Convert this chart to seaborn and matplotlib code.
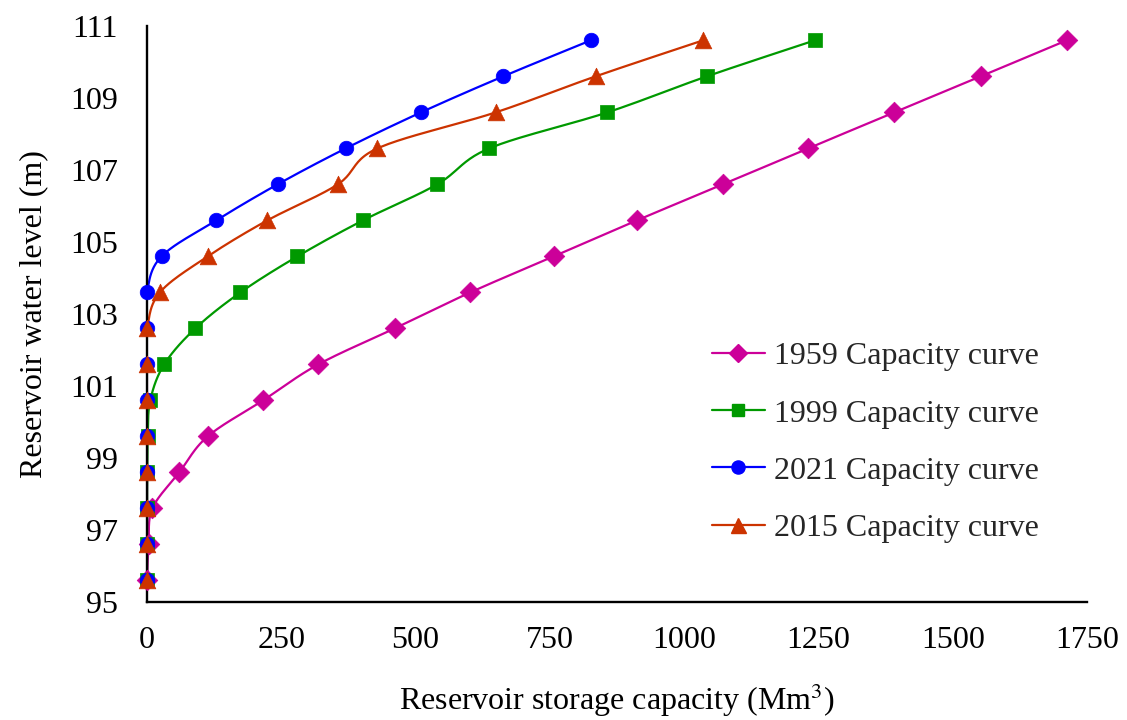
import numpy as np
import pandas as pd
import matplotlib
matplotlib.use("Agg")
import matplotlib.pyplot as plt
from matplotlib.lines import Line2D
import seaborn as sns

# Water levels (m) shared by all curves
levels = [95.6, 96.6, 97.6, 98.6, 99.6, 100.6, 101.6, 102.6,
          103.6, 104.6, 105.6, 106.6, 107.6, 108.6, 109.6, 110.6]

# Storage capacity (Mm3)
cap_1959 = [0, 3, 10, 60, 113, 216, 319, 461, 602, 757, 912, 1072, 1231, 1391, 1552, 1712]
cap_1999 = [0, 0, 0, 0.5, 1.5, 6, 32, 90, 174, 280, 402, 540, 637, 857, 1042, 1243]
cap_2021 = [0, 0, 0, 0, 0, 0, 0, 0, 0, 27, 129, 243, 370, 510, 663, 826]
cap_2015 = [0, 0, 0, 0, 0, 0, 0, 0.5, 24, 113, 224, 355, 429, 649, 835, 1035]

series = [
    ("1959 Capacity curve", cap_1959, "#CC0099", "D", 10.5),
    ("1999 Capacity curve", cap_1999, "#009900", "s", 9.5),
    ("2021 Capacity curve", cap_2021, "#0000FF", "o", 10.5),
    ("2015 Capacity curve", cap_2015, "#CC3300", "^", 12),
]


# Excel-like smoothed line (Catmull-Rom through the points)
def smooth(xs, ys, n=25):
    pts = np.column_stack([xs, ys]).astype(float)
    P = np.vstack([pts[0], pts, pts[-1]])
    t = np.linspace(0, 1, n)[:, None]
    out = []
    for i in range(1, len(P) - 2):
        p0, p1, p2, p3 = P[i - 1], P[i], P[i + 1], P[i + 2]
        c1 = p1 + (p2 - p0) / 6
        c2 = p2 - (p3 - p1) / 6
        seg = (1 - t) ** 3 * p1 + 3 * (1 - t) ** 2 * t * c1 + 3 * (1 - t) * t ** 2 * c2 + t ** 3 * p2
        out.append(seg if i == 1 else seg[1:])
    return np.vstack(out)


sns.set_theme(style="white")
plt.rcParams['font.family'] = ['Liberation Serif', 'DejaVu Serif']
plt.rcParams['mathtext.fontset'] = 'stix'

fig, ax = plt.subplots(figsize=(11.27, 7.2), dpi=100)
fig.subplots_adjust(left=147 / 1127, right=1087 / 1127, bottom=1 - 602 / 720, top=1 - 26 / 720)

handles = []
for name, cap, color, marker, ms in series:
    curve = smooth(cap, levels)
    df_line = pd.DataFrame({"x": curve[:, 0], "y": curve[:, 1]})
    sns.lineplot(data=df_line, x="x", y="y", sort=False, estimator=None,
                 color=color, linewidth=1.6, ax=ax)
    df_pts = pd.DataFrame({"x": cap, "y": levels})
    sns.scatterplot(data=df_pts, x="x", y="y", marker=marker, color=color,
                    s=ms ** 2, edgecolor=color, linewidth=0.5, ax=ax,
                    clip_on=False, zorder=3)
    handles.append(Line2D([], [], color=color, marker=marker, markersize=ms * 0.9,
                          linewidth=1.6, label=name))

for coll in ax.collections:
    coll.set_clip_on(False)

ax.set_xlim(0, 1750)
ax.set_ylim(95, 111)
ax.set_xticks(np.arange(0, 1751, 250))
ax.set_yticks(np.arange(95, 112, 2))

sns.despine(ax=ax)
for side in ["left", "bottom"]:
    ax.spines[side].set_color("black")
    ax.spines[side].set_linewidth(1.7)

ax.tick_params(axis="both", which="major", direction="out", length=7, width=1.7,
               color="black", labelsize=23, labelcolor="black")
ax.tick_params(axis="x", pad=10)
ax.tick_params(axis="y", pad=14)

ax.set_xlabel("Reservoir storage capacity (Mm$^3$)", fontsize=23, labelpad=19, color="black")
ax.set_ylabel("Reservoir water level (m)", fontsize=23, labelpad=16, color="black")

ax.legend(handles=handles, loc="upper left", bbox_to_anchor=(712 / 1127, 1 - 342 / 720),
          bbox_transform=fig.transFigure, frameon=False, fontsize=23,
          handlelength=1.65, handletextpad=0.3, labelspacing=0.87,
          borderaxespad=0, borderpad=0)

fig.savefig("out.png", dpi=100)
